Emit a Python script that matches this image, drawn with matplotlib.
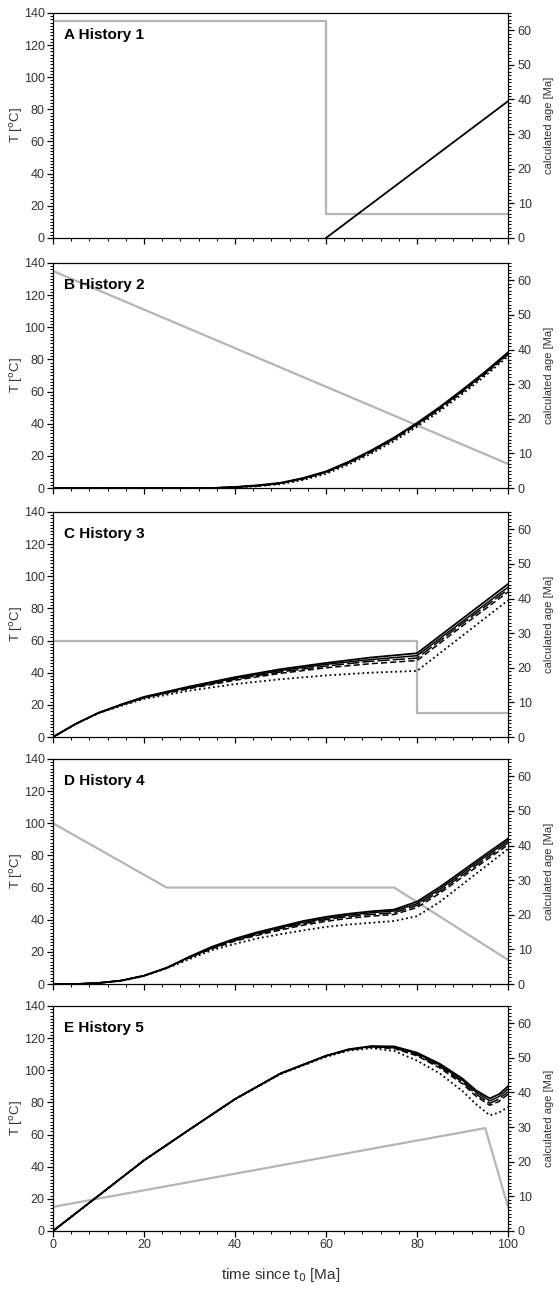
import numpy as np
import matplotlib
matplotlib.use('Agg')
from matplotlib import pyplot as plt
from matplotlib.ticker import MultipleLocator

plt.rcParams['font.family'] = ['Liberation Sans', 'DejaVu Sans']

# temperature histories (grey, left axis, degC)
t_hist1 = [0, 60, 60, 100]
T_hist1 = [135, 135, 15, 15]
t_hist2 = [0, 100]
T_hist2 = [135, 15]
t_hist3 = [0, 80, 80, 100]
T_hist3 = [60, 60, 15, 15]
t_hist4 = [0, 25, 75, 100]
T_hist4 = [100, 60, 60, 15]
t_hist5 = [0, 95, 100]
T_hist5 = [15, 64, 15]

# calculated ages (black, right axis, Ma)
t_age1 = [60, 100]
age1 = [[0, 39.5]]

t_age2 = [0, 35, 40, 45, 50, 55, 60, 65, 70, 75, 80, 85, 90, 95, 100]
age2 = [
    [0, 0, 0.3, 0.8, 1.5, 2.9, 4.8, 7.6, 10.9, 14.6, 18.8, 23.4, 28.4, 33.6, 39.2],
    [0, 0, 0.3, 0.7, 1.4, 2.8, 4.7, 7.5, 10.8, 14.5, 18.6, 23.2, 28.2, 33.4, 39.0],
    [0, 0, 0.2, 0.7, 1.4, 2.7, 4.6, 7.4, 10.6, 14.3, 18.4, 23.0, 28.0, 33.2, 38.8],
    [0, 0, 0.2, 0.6, 1.3, 2.6, 4.5, 7.2, 10.4, 14.1, 18.2, 22.7, 27.7, 32.9, 38.5],
    [0, 0, 0.2, 0.5, 1.1, 2.3, 4.1, 6.8, 10.0, 13.6, 17.7, 22.2, 27.2, 32.4, 38.0],
]

t_age3 = [0, 5, 10, 15, 20, 30, 40, 50, 60, 70, 80, 90, 100]
age3 = [
    [0, 3.8, 7.0, 9.4, 11.6, 14.6, 17.3, 19.6, 21.4, 23.0, 24.2, 34.2, 44.2],
    [0, 3.8, 7.0, 9.4, 11.5, 14.4, 17.0, 19.2, 21.0, 22.4, 23.5, 33.4, 43.3],
    [0, 3.8, 7.0, 9.3, 11.4, 14.2, 16.7, 18.8, 20.5, 21.9, 22.8, 32.8, 42.6],
    [0, 3.8, 6.9, 9.2, 11.3, 14.0, 16.4, 18.4, 20.0, 21.2, 22.1, 32.1, 41.9],
    [0, 3.8, 6.9, 9.0, 11.0, 13.4, 15.3, 16.7, 17.8, 18.6, 19.1, 29.3, 39.5],
]

t_age4 = [0, 5, 10, 15, 20, 25, 30, 35, 40, 45, 50, 55, 60, 65, 70, 75, 80, 85, 90, 95, 100]
age4 = [
    [0, 0, 0.3, 1.0, 2.4, 4.7, 7.9, 10.8, 13.1, 15.0, 16.6, 18.2, 19.4, 20.3, 21.0, 21.5, 23.8, 28.0, 32.7, 37.4, 42.0],
    [0, 0, 0.3, 1.0, 2.4, 4.7, 7.8, 10.6, 12.8, 14.7, 16.3, 17.8, 19.0, 19.9, 20.6, 21.1, 23.2, 27.4, 32.1, 36.8, 41.4],
    [0, 0, 0.3, 1.0, 2.4, 4.7, 7.7, 10.4, 12.6, 14.4, 16.0, 17.4, 18.6, 19.5, 20.1, 20.6, 22.7, 26.8, 31.5, 36.2, 40.8],
    [0, 0, 0.3, 1.0, 2.4, 4.6, 7.6, 10.2, 12.4, 14.1, 15.6, 17.0, 18.1, 19.0, 19.6, 20.1, 22.1, 26.2, 30.9, 35.6, 40.2],
    [0, 0, 0.3, 0.9, 2.3, 4.5, 7.2, 9.8, 11.6, 13.2, 14.4, 15.5, 16.5, 17.2, 17.7, 18.2, 19.6, 23.7, 28.8, 33.9, 39.0],
]

t_age5 = [0, 10, 20, 30, 40, 50, 60, 65, 70, 75, 80, 85, 90, 93, 96, 98, 100]
age5 = [
    [0, 10.2, 20.4, 29.3, 38.1, 45.5, 50.6, 52.5, 53.4, 53.3, 51.5, 48.3, 44.0, 40.6, 38.3, 39.5, 41.8],
    [0, 10.2, 20.4, 29.3, 38.1, 45.5, 50.6, 52.4, 53.3, 53.1, 51.2, 47.9, 43.5, 40.1, 37.6, 38.8, 41.0],
    [0, 10.2, 20.4, 29.3, 38.1, 45.5, 50.6, 52.4, 53.2, 52.9, 50.9, 47.5, 43.0, 39.5, 36.9, 38.1, 40.2],
    [0, 10.2, 20.4, 29.3, 38.1, 45.4, 50.5, 52.3, 53.1, 52.7, 50.6, 47.1, 42.5, 38.9, 36.3, 37.4, 39.5],
    [0, 10.2, 20.4, 29.3, 38.0, 45.3, 50.3, 52.1, 52.8, 52.0, 49.2, 45.5, 40.4, 36.6, 33.4, 34.2, 35.8],
]

panel_titles = ['A History 1', 'B History 2', 'C History 3', 'D History 4', 'E History 5']
hist_t = [t_hist1, t_hist2, t_hist3, t_hist4, t_hist5]
hist_T = [T_hist1, T_hist2, T_hist3, T_hist4, T_hist5]
age_t = [t_age1, t_age2, t_age3, t_age4, t_age5]
ages = [age1, age2, age3, age4, age5]

styles = ['-', '-', (0, (8, 2)), (0, (4, 2)), (0, (1, 1.6))]
widths = [1.3, 1.1, 1.1, 1.1, 1.3]

fig = plt.figure(figsize=(5.59, 12.89), dpi=100)
bottoms = [0.8154, 0.6214, 0.4282, 0.2366, 0.0450]

for i in range(5):
    ax = fig.add_axes([0.0948, bottoms[i], 0.814, 0.1746])
    ax.plot(hist_t[i], hist_T[i], color='#b5b5b5', lw=1.6, zorder=1)
    ax.set_xlim(0, 100)
    ax.set_ylim(0, 140)
    ax.xaxis.set_major_locator(MultipleLocator(20))
    ax.xaxis.set_minor_locator(MultipleLocator(4))
    ax.yaxis.set_major_locator(MultipleLocator(20))
    ax.yaxis.set_minor_locator(MultipleLocator(2))
    ax.tick_params(which='major', direction='out', length=4, width=0.9, labelsize=9, pad=2,
                   labelcolor='#333333')
    ax.tick_params(which='minor', direction='out', length=2.2, width=0.7)
    ax.set_ylabel('T [$^{\\rm o}$C]', fontsize=9.5, color='#333333', va='center')
    ax.yaxis.set_label_coords(-0.08, 0.5)
    ax.text(0.024, 0.9, panel_titles[i], transform=ax.transAxes, fontsize=11,
            fontweight='bold', va='center', ha='left')
    if i < 4:
        ax.tick_params(axis='x', which='both', labelbottom=False)
    else:
        ax.set_xlabel('time since t$_0$ [Ma]', fontsize=11, va='center', color='#333333')
        ax.xaxis.set_label_coords(0.5, -0.195)

    ax2 = ax.twinx()
    ax2.set_ylim(0, 65)
    ax2.yaxis.set_major_locator(MultipleLocator(10))
    ax2.yaxis.set_minor_locator(MultipleLocator(1))
    ax2.tick_params(which='major', direction='out', length=4, width=0.9, labelsize=9, pad=3,
                    labelcolor='#333333')
    ax2.tick_params(which='minor', direction='out', length=2.2, width=0.7)
    ax2.set_ylabel('calculated age [Ma]', fontsize=8, va='center', color='#333333')
    ax2.yaxis.set_label_coords(1.09, 0.5)
    for j, a in enumerate(ages[i]):
        ax2.plot(age_t[i], a, color='black', ls=styles[j], lw=widths[j])

fig.savefig('out.png', dpi=100)
